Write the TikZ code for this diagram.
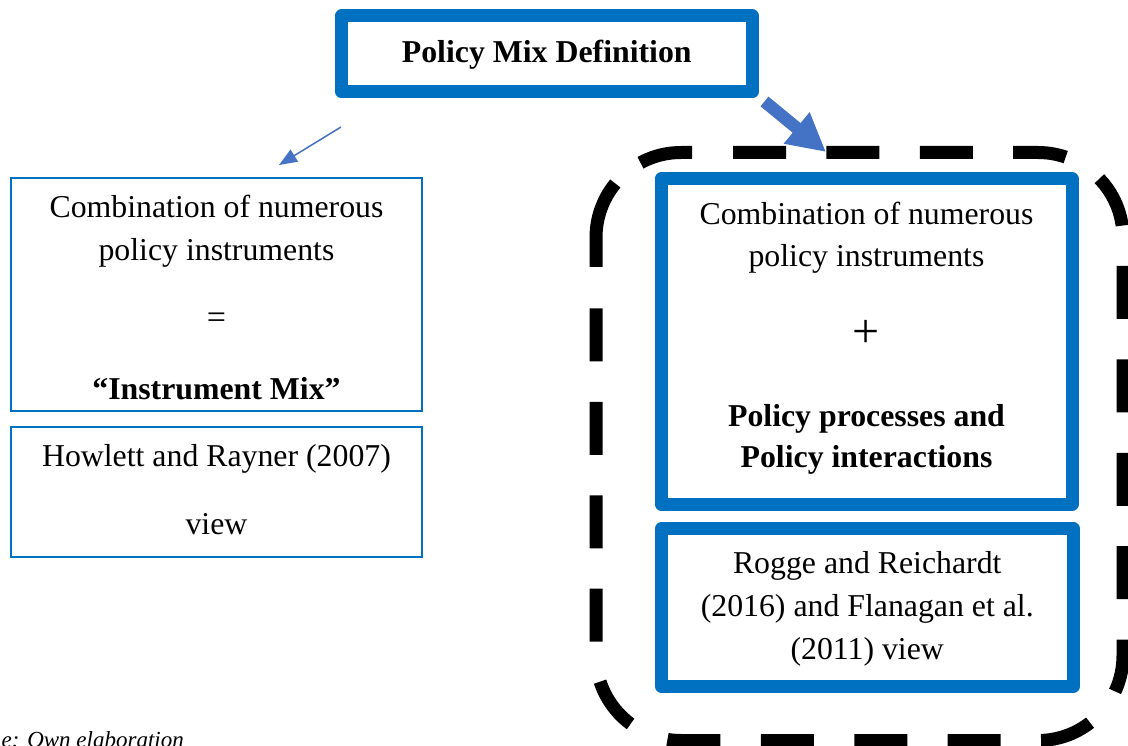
\documentclass[tikz,border=0pt]{standalone}
\usepackage{fontspec}
\setmainfont{Liberation Serif}
\usetikzlibrary{arrows.meta}
\definecolor{boxblue}{HTML}{0070C0}
\definecolor{arrowblue}{HTML}{4472C4}
\begin{document}
\begin{tikzpicture}[x=1pt,y=-1pt,
  thickbox/.style={draw=boxblue, line width=13pt, line join=round, fill=white, inner sep=0pt},
  thinbox/.style={draw=boxblue, line width=2.5pt, fill=white, inner sep=0pt},
  txt/.style={inner sep=0pt, anchor=base, font=\fontsize{31.8}{40}\selectfont},
  btxt/.style={txt, font=\fontsize{31.8}{40}\selectfont\bfseries},
  dashframe/.style={draw=black, line width=13pt, rounded corners=85pt},
  thinarrow/.style={draw=arrowblue, line width=1.5pt, -{Triangle[length=18pt,width=14pt]}},
  thickarrow/.style={draw=arrowblue, line width=12.5pt, -{Triangle[length=38pt,width=38pt]}},
  caption/.style={inner sep=0pt, font=\fontsize{23}{28}\selectfont\itshape}]
\useasboundingbox (0,0) rectangle (1128,746);

% dashed frame around the broader definition (main run, then the top-left corner)
\draw[dashframe, dash pattern=on 53pt off 40.4pt]
  (733,152.5) -- (1123,152.5) -- (1123,740.5) -- (596,740.5) -- (596,300);
\draw[dashframe, dash pattern=on 88pt off 32.8pt]
  (596,267) -- (596,152.5) -- (692,152.5);

% title box
\node[thickbox, minimum width=410.5pt, minimum height=76pt] (def) at (546.75,54) {};
\node[btxt] (deftext) at (546.75,63) {Policy Mix Definition};

% narrow view (left)
\node[thinbox, minimum width=411pt, minimum height=233pt] (instr) at (216.5,294.5) {};
\node[txt] (instrA) at (216.5,217.5) {Combination of numerous};
\node[txt] (instrB) at (216.5,260.5) {policy instruments};
\node[txt, font=\fontsize{34}{40}\selectfont] (eq) at (216.5,329) {=};
\node[btxt] (instrC) at (216.5,399.5) {“Instrument Mix”};

\node[thinbox, minimum width=411pt, minimum height=130pt] (howlett) at (216.5,492) {};
\node[txt] (howA) at (216.5,466.5) {Howlett and Rayner (2007)};
\node[txt] (howB) at (216.5,534.5) {view};

% broad view (right)
\node[thickbox, minimum width=411pt, minimum height=325pt] (broad) at (866.5,341.5) {};
\node[txt] (brA) at (866.5,224.7) {Combination of numerous};
\node[txt] (brB) at (866.5,266.7) {policy instruments};
\node[txt, font=\fontsize{48}{56}\selectfont] (plus) at (866.5,347.7) {+};
\node[btxt] (brC) at (866.5,426.2) {Policy processes and};
\node[btxt] (brD) at (866.5,467.5) {Policy interactions};

\node[thickbox, minimum width=411.5pt, minimum height=158pt] (rogge) at (867.25,607.5) {};
\node[txt] (roA) at (867.25,573.2) {Rogge and Reichardt};
\node[txt] (roB) at (867.25,616.3) {(2016) and Flanagan et al.};
\node[txt] (roC) at (867.25,659.3) {(2011) view};

% arrows from the title
\coordinate (thinS) at (341,127);
\coordinate (thinE) at (279,165);
\draw[thinarrow] (thinS) -- (thinE);
\coordinate (thickS) at (764.5,101.5);
\coordinate (thickE) at (826,152);
\draw[thickarrow] (thickS) -- (thickE);

% source line
\node[caption, anchor=base east] (src) at (184,747) {e: Own elaboration};
\end{tikzpicture}
\end{document}
